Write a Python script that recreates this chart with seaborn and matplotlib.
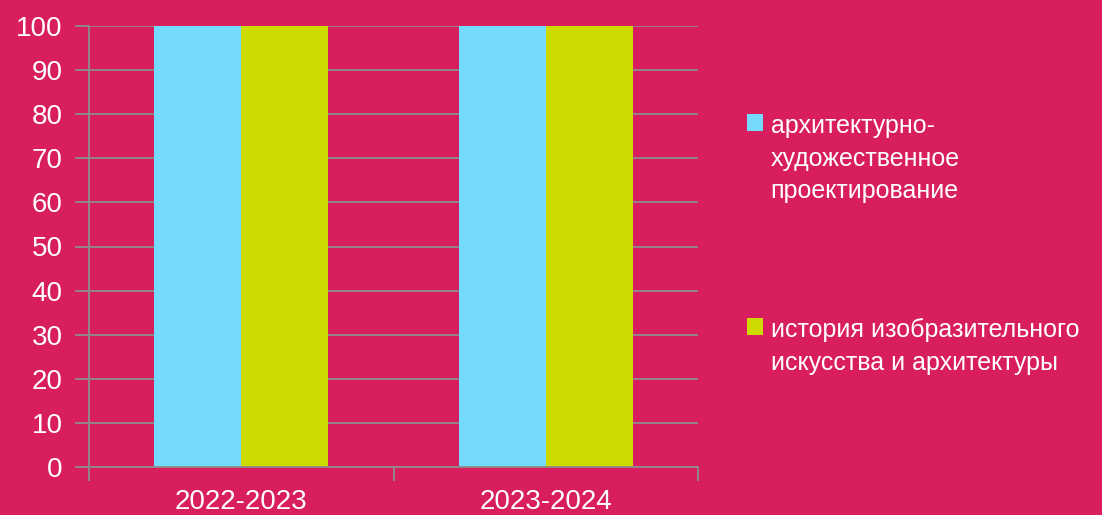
import pandas as pd
import matplotlib.pyplot as plt
import seaborn as sns
import numpy as np

years = ['2022-2023', '2023-2024']
subjects = ['архитектурно-\nхудожественное\nпроектирование',
            'история изобразительного\nискусства и архитектуры']
values_arch = [100, 100]
values_hist = [100, 100]

bg = '#D81E5F'
colors = ['#75DBFD', '#CCDA00']
grid_col = '#8C8C8C'

df = pd.DataFrame({
    'year': years * 2,
    'subject': [subjects[0]] * 2 + [subjects[1]] * 2,
    'value': values_arch + values_hist,
})

sns.set_style('white')
plt.rcParams['font.family'] = ['Liberation Sans', 'DejaVu Sans']

fig = plt.figure(figsize=(11.02, 5.15), dpi=100, facecolor=bg)
ax = fig.add_axes([89 / 1102, 1 - 467 / 515, 609 / 1102, 441 / 515])
ax.set_facecolor(bg)

sns.barplot(data=df, x='year', y='value', hue='subject', palette=colors,
            width=0.57, saturation=1, linewidth=0, ax=ax, legend=True)

ax.set_ylim(0, 100)
ax.set_xlim(-0.5, 1.5)
ax.set_yticks(np.arange(0, 101, 10))
ax.yaxis.grid(True, color=grid_col, linewidth=1.3)
ax.set_axisbelow(True)

ax.set_xticks([-0.5, 0.5, 1.5])
ax.set_xticklabels([])
ax.set_xticks([0, 1], minor=True)
ax.set_xticklabels(years, minor=True)
ax.tick_params(axis='x', which='major', bottom=True, length=10, width=1.3,
               color=grid_col, direction='out')
ax.tick_params(axis='x', which='minor', bottom=True, length=0, pad=16,
               labelsize=20, labelcolor='white')
ax.tick_params(axis='y', left=True, length=10, width=1.3, color=grid_col,
               direction='out', pad=9, labelsize=20, labelcolor='white')
ax.set_xlabel('')
ax.set_ylabel('')

for s in ['top', 'right']:
    ax.spines[s].set_visible(False)
for s in ['left', 'bottom']:
    ax.spines[s].set_color(grid_col)
    ax.spines[s].set_linewidth(1.3)

handles, labels = ax.get_legend_handles_labels()
ax.get_legend().remove()
leg = fig.legend(handles, labels, loc='upper left',
                 bbox_to_anchor=(747 / 1102, 1 - 114 / 515),
                 frameon=False, fontsize=18, labelcolor='white',
                 handlelength=0.65, handleheight=0.65, handletextpad=0.3,
                 labelspacing=4.6, borderpad=0, borderaxespad=0)
for t in leg.get_texts():
    t.set_linespacing(1.45)
for col in leg._legend_handle_box.get_children():
    for row in col.get_children():
        row.align = 'top'

fig.savefig('out.png', dpi=100, facecolor=bg)
